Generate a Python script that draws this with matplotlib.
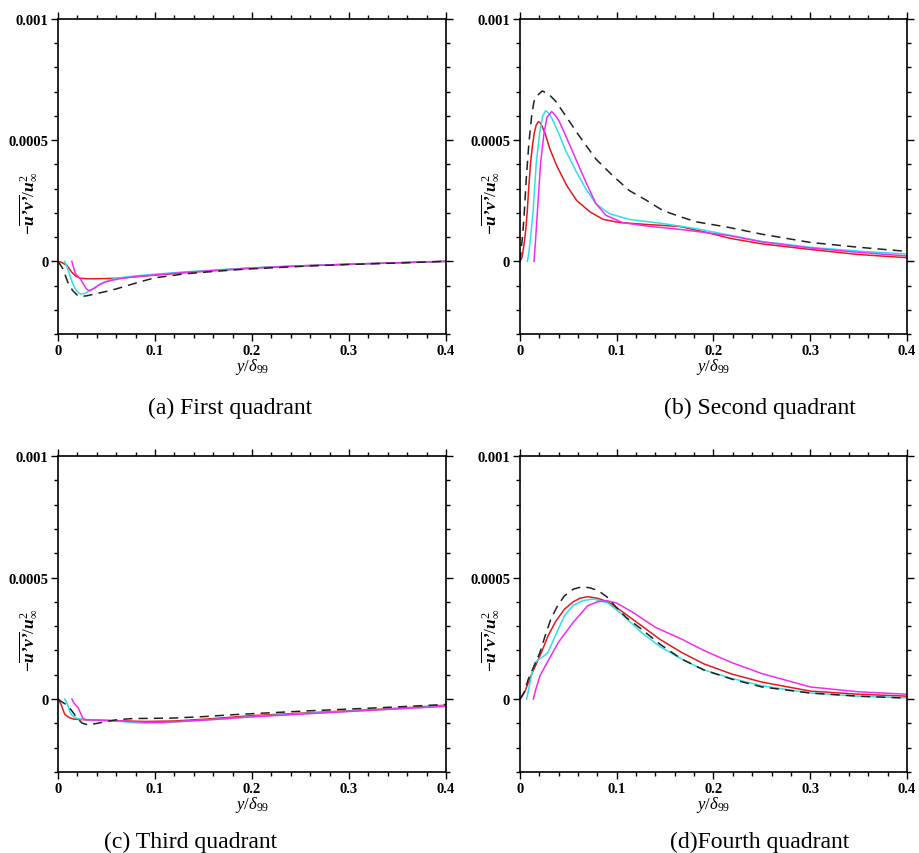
# Quadrant contributions of the Reynolds shear stress -u'v'/u_inf^2
import matplotlib
matplotlib.use('Agg')
import matplotlib.pyplot as plt
from matplotlib.ticker import MultipleLocator

plt.rcParams['font.family'] = ['Liberation Serif', 'DejaVu Serif']
plt.rcParams['mathtext.fontset'] = 'custom'
plt.rcParams['mathtext.rm'] = 'Liberation Serif'
plt.rcParams['mathtext.it'] = 'Liberation Serif:italic'
plt.rcParams['mathtext.bf'] = 'Liberation Serif:bold'
plt.rcParams['mathtext.bfit'] = 'Liberation Serif:italic:bold'

UNIT = 1e-4  # valores das curvas em unidades de 1e-4

# (a) First quadrant
a_red_x = [0, 0.004, 0.009, 0.014, 0.018, 0.023, 0.03, 0.04, 0.05, 0.06, 0.07, 0.085, 0.1, 0.13, 0.16, 0.19, 0.22, 0.26, 0.3, 0.35, 0.4]
a_red_y = [0, -0.05, -0.16, -0.44, -0.6, -0.7, -0.72, -0.72, -0.71, -0.7, -0.67, -0.62, -0.57, -0.47, -0.39, -0.3, -0.24, -0.17, -0.12, -0.06, 0]
a_cyan_x = [0.007, 0.009, 0.012, 0.015, 0.018, 0.021, 0.024, 0.028, 0.033, 0.038, 0.043, 0.05, 0.057, 0.065, 0.08, 0.1, 0.13, 0.16, 0.19, 0.22, 0.26, 0.3, 0.35, 0.4]
a_cyan_y = [0, -0.2, -0.55, -0.9, -1.15, -1.3, -1.35, -1.32, -1.22, -1.08, -0.95, -0.82, -0.73, -0.67, -0.6, -0.53, -0.44, -0.36, -0.29, -0.23, -0.17, -0.12, -0.06, 0]
a_mag_x = [0.0143, 0.016, 0.018, 0.02, 0.023, 0.026, 0.029, 0.031, 0.034, 0.038, 0.042, 0.048, 0.056, 0.065, 0.08, 0.1, 0.13, 0.16, 0.19, 0.22, 0.26, 0.3, 0.35, 0.4]
a_mag_y = [0, -0.25, -0.5, -0.6, -0.72, -0.92, -1.12, -1.2, -1.18, -1.1, -0.98, -0.86, -0.78, -0.71, -0.63, -0.56, -0.46, -0.38, -0.31, -0.24, -0.18, -0.12, -0.06, 0]
a_dash_x = [0, 0.005, 0.01, 0.015, 0.02, 0.024, 0.03, 0.04, 0.05, 0.06, 0.07, 0.085, 0.1, 0.13, 0.16, 0.19, 0.22, 0.26, 0.3, 0.35, 0.4]
a_dash_y = [0, -0.3, -0.85, -1.2, -1.4, -1.45, -1.42, -1.33, -1.24, -1.14, -1.02, -0.84, -0.68, -0.52, -0.42, -0.33, -0.27, -0.19, -0.13, -0.07, 0]

# (b) Second quadrant
b_red_x = [0, 0.002, 0.0041, 0.006, 0.0075, 0.009, 0.011, 0.013, 0.0148, 0.0168, 0.0189, 0.021, 0.0225, 0.0258, 0.031, 0.0379, 0.0483, 0.0586, 0.0724, 0.086, 0.103, 0.131, 0.165, 0.193, 0.217, 0.25, 0.3, 0.35, 0.4]
b_red_y = [0, 0.15, 0.67, 1.3, 2.04, 3.0, 4.09, 4.8, 5.3, 5.62, 5.76, 5.72, 5.6, 5.3, 4.63, 3.95, 3.13, 2.51, 2.04, 1.73, 1.6, 1.52, 1.44, 1.19, 0.95, 0.72, 0.49, 0.28, 0.15]
b_cyan_x = [0.0076, 0.009, 0.011, 0.0135, 0.0169, 0.0204, 0.0235, 0.0266, 0.03, 0.0335, 0.0404, 0.0473, 0.0577, 0.0681, 0.0785, 0.0922, 0.113, 0.1475, 0.182, 0.2166, 0.25, 0.3, 0.35, 0.4]
b_cyan_y = [0, 0.3, 1.0, 2.04, 4.09, 5.3, 6.0, 6.22, 6.1, 5.86, 5.25, 4.56, 3.74, 2.99, 2.38, 1.97, 1.73, 1.56, 1.35, 1.08, 0.82, 0.58, 0.42, 0.3]
b_mag_x = [0.0145, 0.016, 0.018, 0.0214, 0.0249, 0.028, 0.0328, 0.036, 0.0404, 0.0473, 0.0577, 0.0681, 0.0785, 0.0888, 0.106, 0.13, 0.165, 0.199, 0.2166, 0.25, 0.3, 0.35, 0.4]
b_mag_y = [0, 0.8, 2.04, 4.09, 5.3, 5.95, 6.18, 6.05, 5.79, 5.18, 4.22, 3.27, 2.38, 1.9, 1.6, 1.46, 1.32, 1.15, 1.06, 0.8, 0.55, 0.37, 0.22]
b_dash_x = [0, 0.0024, 0.0041, 0.0065, 0.0093, 0.0121, 0.0145, 0.0179, 0.0231, 0.03, 0.037, 0.0473, 0.0611, 0.0785, 0.0957, 0.113, 0.1302, 0.1475, 0.165, 0.182, 0.2132, 0.25, 0.3, 0.35, 0.4]
b_dash_y = [0, 0.94, 1.77, 3.4, 4.92, 6.0, 6.6, 6.84, 7.03, 6.89, 6.6, 6.0, 5.18, 4.22, 3.54, 2.92, 2.53, 2.1, 1.85, 1.63, 1.42, 1.12, 0.78, 0.58, 0.41]

# (c) Third quadrant
c_red_x = [0, 0.003, 0.0069, 0.011, 0.0158, 0.022, 0.03, 0.05, 0.07, 0.09, 0.12, 0.15, 0.2, 0.25, 0.3, 0.35, 0.4]
c_red_y = [0, -0.2, -0.62, -0.75, -0.82, -0.84, -0.85, -0.88, -0.9, -0.92, -0.9, -0.83, -0.68, -0.58, -0.48, -0.38, -0.25]
c_cyan_x = [0.0069, 0.0085, 0.0103, 0.0124, 0.0148, 0.0172, 0.02, 0.028, 0.04, 0.06, 0.075, 0.09, 0.11, 0.13, 0.16, 0.2, 0.25, 0.3, 0.35, 0.4]
c_cyan_y = [0, -0.1, -0.27, -0.55, -0.68, -0.75, -0.8, -0.84, -0.86, -0.9, -0.96, -0.99, -0.97, -0.92, -0.84, -0.72, -0.6, -0.5, -0.4, -0.28]
c_mag_x = [0.0144, 0.0161, 0.0185, 0.0206, 0.0229, 0.0258, 0.029, 0.035, 0.045, 0.06, 0.075, 0.09, 0.11, 0.13, 0.16, 0.2, 0.25, 0.3, 0.35, 0.4]
c_mag_y = [0, -0.14, -0.26, -0.34, -0.55, -0.8, -0.85, -0.86, -0.87, -0.89, -0.92, -0.95, -0.95, -0.91, -0.84, -0.73, -0.62, -0.51, -0.4, -0.3]
c_dash_x = [0, 0.005, 0.0103, 0.015, 0.02, 0.025, 0.031, 0.04, 0.05, 0.0605, 0.077, 0.1, 0.118, 0.15, 0.181, 0.22, 0.26, 0.3, 0.35, 0.4]
c_dash_y = [0, -0.14, -0.27, -0.52, -0.8, -0.99, -1.06, -1.0, -0.92, -0.85, -0.8, -0.79, -0.78, -0.72, -0.64, -0.56, -0.48, -0.41, -0.32, -0.22]

# (d) Fourth quadrant
d_red_x = [0, 0.005, 0.0114, 0.018, 0.023, 0.029, 0.037, 0.046, 0.055, 0.062, 0.07, 0.08, 0.091, 0.105, 0.1255, 0.145, 0.167, 0.19, 0.219, 0.25, 0.3, 0.35, 0.4]
d_red_y = [0, 0.3, 0.96, 1.55, 2.0, 2.6, 3.2, 3.7, 4.0, 4.15, 4.21, 4.15, 4.0, 3.62, 3.02, 2.45, 1.92, 1.45, 1.03, 0.7, 0.33, 0.2, 0.12]
d_cyan_x = [0.0069, 0.009, 0.012, 0.0155, 0.02, 0.024, 0.029, 0.037, 0.046, 0.055, 0.065, 0.0758, 0.091, 0.105, 0.1255, 0.145, 0.167, 0.19, 0.219, 0.25, 0.3, 0.35, 0.4]
d_cyan_y = [0, 0.4, 1.0, 1.51, 1.65, 1.75, 1.92, 2.65, 3.43, 3.85, 4.05, 4.12, 3.95, 3.5, 2.74, 2.15, 1.65, 1.2, 0.85, 0.55, 0.25, 0.12, 0.05]
d_mag_x = [0.0138, 0.016, 0.0207, 0.026, 0.032, 0.04, 0.0551, 0.07, 0.08, 0.0896, 0.1, 0.117, 0.14, 0.167, 0.19, 0.219, 0.25, 0.3, 0.35, 0.4]
d_mag_y = [0, 0.35, 0.96, 1.35, 1.78, 2.35, 3.16, 3.84, 4.0, 4.05, 3.95, 3.56, 2.95, 2.47, 2.0, 1.5, 1.05, 0.5, 0.3, 0.2]
d_dash_x = [0, 0.004, 0.0086, 0.0145, 0.0207, 0.026, 0.032, 0.039, 0.046, 0.055, 0.064, 0.072, 0.081, 0.09, 0.098, 0.11, 0.1255, 0.145, 0.167, 0.19, 0.219, 0.25, 0.3, 0.35, 0.4]
d_dash_y = [0, 0.25, 0.82, 1.35, 1.92, 2.6, 3.3, 3.85, 4.25, 4.52, 4.62, 4.58, 4.46, 4.2, 3.84, 3.35, 2.88, 2.25, 1.65, 1.2, 0.82, 0.5, 0.25, 0.12, 0.04]

x_ticks = [0, 0.1, 0.2, 0.3, 0.4]
x_tick_labels = ['0', '0.1', '0.2', '0.3', '0.4']
y_ticks = [0, 0.0005, 0.001]
y_tick_labels = ['0', '0.0005', '0.001']
captions = ['(a) First quadrant', '(b) Second quadrant', '(c) Third quadrant', '(d)Fourth quadrant']


def desenhar(ax, red, cyan, mag, dash):
    ax.plot(red[0], [v * UNIT for v in red[1]], color='#e41a1c', lw=1.1)
    ax.plot(cyan[0], [v * UNIT for v in cyan[1]], color='#30e0e8', lw=1.1)
    ax.plot(mag[0], [v * UNIT for v in mag[1]], color='#f22cf2', lw=1.1)
    ax.plot(dash[0], [v * UNIT for v in dash[1]], color='#222222', lw=1.1,
            ls=(0, (6, 4)))

    ax.set_xlim(0, 0.4)
    ax.set_ylim(-0.0003, 0.001)
    ax.set_xticks(x_ticks)
    ax.set_xticklabels(x_tick_labels)
    ax.set_yticks(y_ticks)
    ax.set_yticklabels(y_tick_labels)
    ax.xaxis.set_minor_locator(MultipleLocator(0.02))
    ax.yaxis.set_minor_locator(MultipleLocator(0.0001))
    ax.tick_params(which='both', direction='out', top=True, right=True,
                   width=1.0, labelsize=10.5, pad=2)
    ax.tick_params(which='major', length=5)
    ax.tick_params(which='minor', length=3)
    for lab in ax.get_xticklabels() + ax.get_yticklabels():
        lab.set_fontweight('bold')
    for s in ax.spines.values():
        s.set_linewidth(1.2)

    ax.set_xlabel(r'$\mathit{y}/\delta_{\mathit{99}}$', fontsize=12)
    ax.xaxis.set_label_coords(0.5, -0.07)
    ax.set_ylabel('$\\mathbf{-}\\overline{\\mathbfit{u\u2019v\u2019}}/\\mathbfit{u}_{\\infty}^{2}$',
                  fontsize=12.5)
    ax.yaxis.set_label_coords(-0.05, 0.42)


fig = plt.figure(figsize=(9.19, 8.54), dpi=100)

posicoes = [[0.0631, 0.6077, 0.4222, 0.3689],
            [0.5658, 0.6077, 0.4211, 0.3689],
            [0.0631, 0.0948, 0.4222, 0.3701],
            [0.5658, 0.0948, 0.4211, 0.3701]]

curvas = [
    ((a_red_x, a_red_y), (a_cyan_x, a_cyan_y), (a_mag_x, a_mag_y), (a_dash_x, a_dash_y)),
    ((b_red_x, b_red_y), (b_cyan_x, b_cyan_y), (b_mag_x, b_mag_y), (b_dash_x, b_dash_y)),
    ((c_red_x, c_red_y), (c_cyan_x, c_cyan_y), (c_mag_x, c_mag_y), (c_dash_x, c_dash_y)),
    ((d_red_x, d_red_y), (d_cyan_x, d_cyan_y), (d_mag_x, d_mag_y), (d_dash_x, d_dash_y)),
]

for pos, c in zip(posicoes, curvas):
    ax = fig.add_axes(pos)
    desenhar(ax, *c)

# legendas de cada painel
fig.text(0.25, 0.522, captions[0], fontsize=17, ha='center', va='center')
fig.text(0.827, 0.522, captions[1], fontsize=17, ha='center', va='center')
fig.text(0.207, 0.013, captions[2], fontsize=17, ha='center', va='center')
fig.text(0.827, 0.013, captions[3], fontsize=17, ha='center', va='center')

fig.savefig('out.png', dpi=100)
